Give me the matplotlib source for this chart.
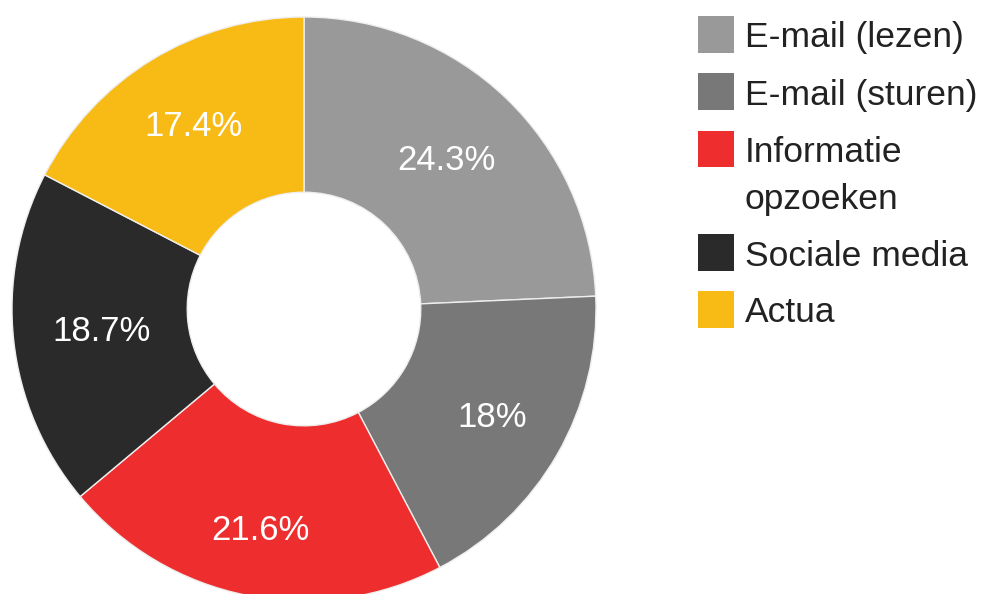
import textwrap
import numpy as np
import matplotlib
matplotlib.use("Agg")
import matplotlib.pyplot as plt
from matplotlib.patches import Rectangle

categories = ["E-mail (lezen)", "E-mail (sturen)", "Informatie opzoeken", "Sociale media", "Actua"]
values = [24.3, 18.0, 21.6, 18.7, 17.4]
value_labels = ["24.3%", "18%", "21.6%", "18.7%", "17.4%"]
colors = ["#999999", "#787878", "#ee2e2e", "#2a2a2a", "#f8bb16"]
# radial placement of each percentage label (fraction of outer radius)
label_radius = [0.706, 0.745, 0.772, 0.698, 0.731]

plt.rcParams['font.family'] = ['Liberation Sans', 'DejaVu Sans']

W, H = 984, 594
fig = plt.figure(figsize=(W / 100, H / 100), dpi=100)
fig.patch.set_facecolor("white")

cx, cy, R = 304, 309, 292
ax = fig.add_axes([(cx - R) / W, (H - cy - R) / H, 2 * R / W, 2 * R / H])

wedges, texts = ax.pie(values, colors=colors, startangle=90, counterclock=False,
                       radius=1.0, labels=value_labels, labeldistance=0.705,
                       wedgeprops=dict(width=0.6, edgecolor="#eeeeee", linewidth=1.0),
                       textprops=dict(color="white", fontsize=25))
for w, t, r in zip(wedges, texts, label_radius):
    mid = np.deg2rad((w.theta1 + w.theta2) / 2)
    t.set_position((r * np.cos(mid), r * np.sin(mid)))
    t.set_ha("center")
    t.set_va("center")
ax.set_xlim(-1, 1)
ax.set_ylim(-1, 1)
ax.set_aspect("equal")
ax.axis("off")

# legend drawn manually
sq = 36
x_sq = 698
x_txt = 745
row_gap = 57
line_gap = 47
y = 34.5
for cat, col in zip(categories, colors):
    lines = textwrap.wrap(cat, 16)
    fig.patches.append(Rectangle(((x_sq) / W, (H - y - sq / 2) / H), sq / W, sq / H,
                                 transform=fig.transFigure, facecolor=col,
                                 edgecolor="none"))
    for k, ln in enumerate(lines):
        fig.text(x_txt / W, (H - (y + k * line_gap)) / H, ln, fontsize=25.5,
                 color="#222222", ha="left", va="center_baseline")
    y += row_gap + line_gap * (len(lines) - 1)

fig.savefig("out.png", dpi=100, facecolor="white")
